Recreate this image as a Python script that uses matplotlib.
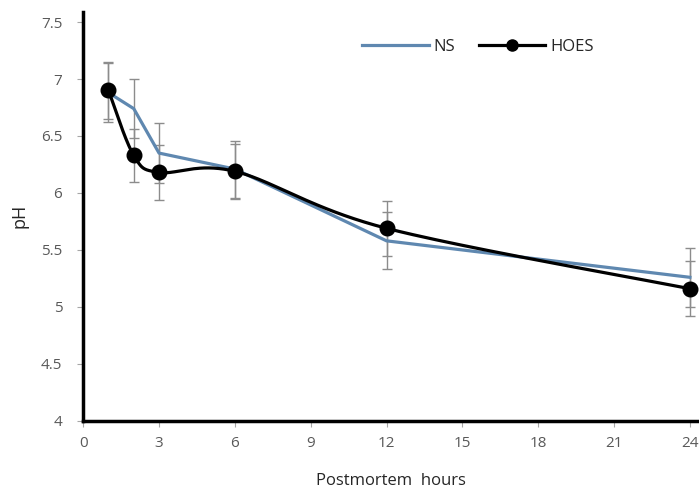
import numpy as np
import matplotlib
matplotlib.use("Agg")
import matplotlib.pyplot as plt
from matplotlib.lines import Line2D

hours = [1, 2, 3, 6, 12, 24]
ns_ph = [6.88, 6.74, 6.35, 6.21, 5.58, 5.26]
ns_err = [0.26, 0.26, 0.26, 0.25, 0.25, 0.26]
hoes_ph = [6.90, 6.33, 6.18, 6.19, 5.69, 5.16]
hoes_err = [0.25, 0.23, 0.24, 0.24, 0.24, 0.24]
xticks = [0, 3, 6, 9, 12, 15, 18, 21, 24]
yticks = [4, 4.5, 5, 5.5, 6, 6.5, 7, 7.5]
ytick_labels = ["4", "4.5", "5", "5.5", "6", "6.5", "7", "7.5"]


def smooth_curve(x, y, n=40):
    # Catmull-Rom style bezier smoothing (like spreadsheet "smoothed line")
    x = np.asarray(x, float)
    y = np.asarray(y, float)
    px, py = [], []
    for i in range(len(x) - 1):
        x0, y0 = (x[i - 1], y[i - 1]) if i > 0 else (x[i], y[i])
        x1, y1 = x[i], y[i]
        x2, y2 = x[i + 1], y[i + 1]
        x3, y3 = (x[i + 2], y[i + 2]) if i + 2 < len(x) else (x2, y2)
        c1x = x1 + (x2 - x0) / 6
        c1y = y1 + (y2 - y0) / 6
        c2x = x2 - (x3 - x1) / 6
        c2y = y2 - (y3 - y1) / 6
        t = np.linspace(0, 1, n)
        bx = (1 - t) ** 3 * x1 + 3 * (1 - t) ** 2 * t * c1x + 3 * (1 - t) * t ** 2 * c2x + t ** 3 * x2
        by = (1 - t) ** 3 * y1 + 3 * (1 - t) ** 2 * t * c1y + 3 * (1 - t) * t ** 2 * c2y + t ** 3 * y2
        px.extend(bx)
        py.extend(by)
    return np.array(px), np.array(py)


plt.rcParams['font.family'] = ['Open Sans', 'DejaVu Sans']

fig = plt.figure(figsize=(6.99, 4.90), dpi=100)
ax = fig.add_axes([0.119, 0.141, 0.881, 0.835])

ns_color = '#5f88b0'
err_color = '#8c8c8c'

ax.errorbar(hours, ns_ph, yerr=ns_err, fmt='none', ecolor=err_color,
            elinewidth=1, capsize=3.5, capthick=1, zorder=1)
ax.errorbar(hours, hoes_ph, yerr=hoes_err, fmt='none', ecolor=err_color,
            elinewidth=1, capsize=3.5, capthick=1, zorder=1)

ax.plot(hours, ns_ph, color=ns_color, lw=2.3, zorder=2)
sx, sy = smooth_curve(hours, hoes_ph)
ax.plot(sx, sy, color='black', lw=2.3, zorder=3)
ax.plot(hours, hoes_ph, 'o', color='black', markersize=10.5, zorder=4)

ax.set_xlim(0, 24.36)
ax.set_ylim(4, 7.59)
ax.set_xticks(xticks)
ax.set_xticklabels([str(v) for v in xticks])
ax.set_yticks(yticks)
ax.set_yticklabels(ytick_labels)

for s in ['top', 'right']:
    ax.spines[s].set_visible(False)
for s in ['left', 'bottom']:
    ax.spines[s].set_linewidth(2.5)
    ax.spines[s].set_color('black')

ax.tick_params(axis='both', direction='out', length=4, width=0.8,
               color='#a6a6a6', labelcolor='#595959', labelsize=11)
ax.tick_params(axis='y', pad=11)
ax.tick_params(axis='x', pad=7)

ax.set_xlabel('Postmortem  hours', fontsize=12, color='#262626', labelpad=16)
ax.set_ylabel('pH', fontsize=13, color='#262626', labelpad=9)

handles = [Line2D([], [], color=ns_color, lw=2.3),
           Line2D([], [], color='black', lw=2.3, marker='o', markersize=8)]
leg = ax.legend(handles, ['NS', 'HOES'], loc='center left', bbox_to_anchor=(0.453, 0.915),
                ncol=2, frameon=False, fontsize=12, handlelength=4.0,
                handletextpad=0.3, columnspacing=1.4, borderpad=0, borderaxespad=0)
for t in leg.get_texts():
    t.set_color('#262626')

fig.savefig('out.png', dpi=100, facecolor='white')
